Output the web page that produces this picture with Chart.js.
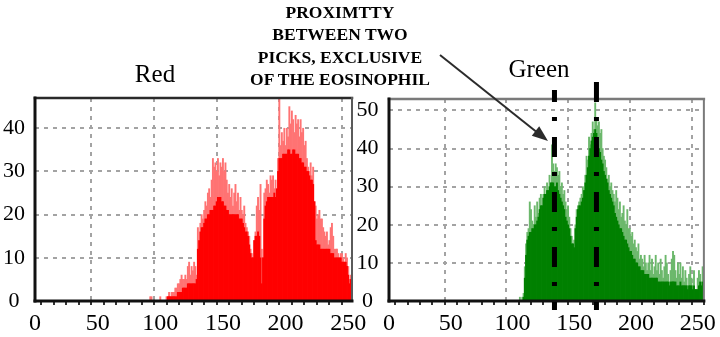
<!DOCTYPE html>
<html><head><meta charset="utf-8">
<script src="https://cdn.jsdelivr.net/npm/chart.js@4.4.0/dist/chart.umd.min.js"></script>
<style>
html,body{margin:0;padding:0;background:#fff;width:720px;height:337px;overflow:hidden;}
#wrap{position:relative;width:720px;height:337px;}
.cv{position:absolute;top:0;}
.t{position:absolute;font-family:"Liberation Serif","Times New Roman",serif;color:#000;text-align:center;white-space:nowrap;}
svg{position:absolute;left:0;top:0;}
</style></head><body>
<div id="wrap">
  <div class="cv" style="left:0;width:372px;height:337px"><canvas id="red" width="372" height="337"></canvas></div>
  <div class="cv" style="left:350px;width:370px;height:337px"><canvas id="green" width="370" height="337"></canvas></div>
  <div class="t" id="titleRed" style="left:95px;top:61px;width:120px;font-size:25px;line-height:25px"></div>
  <div class="t" id="titleGreen" style="left:479px;top:56px;width:120px;font-size:25px;line-height:25px"></div>
  <div class="t" id="note" style="left:240px;top:1px;width:200px;font-size:17.5px;line-height:22.3px;font-weight:bold"></div>
  <svg width="720" height="337"><line x1="440" y1="55" x2="536" y2="131.5" stroke="#2b2b2b" stroke-width="2"/><polygon points="548,141 531.8,135.7 539.2,126.3" fill="#2b2b2b"/></svg>
</div>
<script>
// ---------- DATA ----------
const panelTitles = ["Red", "Green"];
const noteLines = ["PROXIMTTY", "BETWEEN TWO", "PICKS, EXCLUSIVE", "OF THE EOSINOPHIL"];
const xTickLabels = [0, 50, 100, 150, 200, 250];
const yTickStep = 10;

// Red histogram: intensity bins starting at redStartBin (lower bins are empty)
const redStartBin = 90;
const redPeak = [
  0,0,1,1,0,0,0,0,0,0,
  1,0,0,0,0,1,1,2,1,2,
  2,2,3,3,4,4,5,6,5,5,
  6,5,8,9,6,8,7,9,8,6,
  17,12,18,20,19,21,23,22,25,26,
  24,28,33,31,32,30,33,29,32,31,
  33,30,32,28,25,27,24,26,22,25,
  27,23,25,21,24,21,20,22,18,17,
  16,15,12,11,10,14,16,22,24,21,
  27,12,10,25,26,28,27,25,29,28,
  29,26,28,24,33,47,36,39,37,40,
  36,40,38,45,41,44,42,39,43,41,
  42,38,42,39,40,36,37,33,31,30,
  32,29,31,23,22,19,20,21,19,19,
  17,16,15,16,13,14,17,18,15,12,
  12,12,11,10,11,11,10,9,11,10,
  8,5,6,12
];
const redBase = [
  0,0,0,0,0,0,0,0,0,0,
  0,0,0,0,0,0,1,1,1,1,
  1,1,1,1,2,2,2,2,3,3,
  3,3,4,4,4,4,4,4,4,5,
  12,14,16,17,17,18,19,19,20,20,
  21,21,21,22,22,23,24,24,24,23,
  23,22,22,21,21,20,20,20,20,20,
  20,20,20,19,19,19,18,17,16,16,
  15,13,11,10,10,14,15,15,16,15,
  10,4,10,19,22,23,24,24,24,24,
  24,25,24,26,30,33,33,33,34,34,
  34,34,35,35,34,34,35,35,34,34,
  34,33,33,32,32,31,31,30,30,29,
  28,28,27,23,14,13,13,13,12,12,
  12,12,12,12,12,12,11,11,11,10,
  10,10,10,10,10,9,9,9,9,8,
  6,4,5,10
];

// Green histogram
const greenStartBin = 105;
const greenPeak = [
  0,1,0,1,2, 9,15,18,19,26, 24,21,20,25,22, 26,23,27,28,25,
  28,30,27,31,29, 33,31,41,36,34, 36,35,33,34,30, 31,28,29,26,24,
  25,22,19,17,15, 16,20,24,25,26, 27,28,30,29,33, 38,37,43,41,44,
  47,45,52,48,46, 47,44,45,40,38, 37,35,32,33,30, 31,29,28,26,29,
  27,24,26,22,23, 25,21,20,24,19, 19,17,18,15,16, 14,13,15,11,12,
  11,9,12,10,8, 10,12,8,11,7, 9,12,8,10,7, 11,8,6,9,12,
  10,7,5,8,11, 13,12,8,6,10, 7,10,6,9,5, 8,6,4,7,9,
  6,4,8,3,3, 6,8,7,5,9
];
const greenBase = [
  0,0,0,0,1, 6,12,16,17,18, 18,19,19,20,20, 21,22,24,25,25,
  27,28,28,29,29, 30,31,31,31,30, 30,31,29,28,27, 26,25,24,22,21,
  20,19,17,15,15, 14,19,22,24,25, 25,26,27,29,31, 33,35,38,40,42,
  43,44,45,44,41, 40,39,37,36,34, 33,32,31,29,28, 27,26,25,23,22,
  21,20,19,19,18, 17,16,16,15,14, 13,13,12,11,11, 10,10,9,9,8,
  8,8,7,7,7, 7,6,6,6,6, 6,6,6,5,5, 5,5,5,5,5,
  5,5,4,5,5, 5,5,5,4,4, 4,5,4,4,4, 4,4,3,4,4,
  4,3,4,3,3, 3,4,5,4,5
];
// Dash-dot marker positions on the green histogram (intensity values)
const greenMarkers = [134, 168];

// ---------- TEXT ----------
document.getElementById('titleRed').textContent = panelTitles[0];
document.getElementById('titleGreen').textContent = panelTitles[1];
document.getElementById('note').innerHTML = noteLines.join('<br>');

// ---------- CHARTS ----------
const FONT = '"Liberation Serif", "Times New Roman", serif';

const framePlugin = {
  id: 'frame',
  afterDatasetsDraw(chart, args, o) {
    const {left, right, top, bottom} = chart.chartArea;
    const ctx = chart.ctx;
    ctx.save();
    ctx.setLineDash([]);
    ctx.lineCap = 'square';
    ctx.strokeStyle = o.topColor; ctx.lineWidth = 2.5;
    ctx.beginPath(); ctx.moveTo(left, top); ctx.lineTo(right, top); ctx.stroke();
    ctx.strokeStyle = o.rightColor; ctx.lineWidth = 2;
    ctx.beginPath(); ctx.moveTo(right, top); ctx.lineTo(right, bottom); ctx.stroke();
    ctx.strokeStyle = '#111'; ctx.lineWidth = 3;
    ctx.beginPath(); ctx.moveTo(left, top); ctx.lineTo(left, bottom); ctx.stroke();
    ctx.beginPath(); ctx.moveTo(left, bottom); ctx.lineTo(right, bottom); ctx.stroke();
    if (o.markers) {
      ctx.strokeStyle = '#000'; ctx.lineWidth = 5; ctx.lineCap = 'butt';
      ctx.setLineDash([20, 15, 4, 16]);
      o.markers.forEach((v, i) => {
        const x = chart.scales.x.getPixelForValue(v);
        const y0 = o.markerTops[i];
        ctx.lineDashOffset = ((y0 - 82) % 55 + 55) % 55;
        ctx.beginPath(); ctx.moveTo(x, y0); ctx.lineTo(x, bottom + 9); ctx.stroke();
      });
    }
    ctx.restore();
  }
};

function makeChart(id, cfg) {
  const toPts = (arr) => arr.map((y, i) => ({x: cfg.start + i, y}));
  return new Chart(document.getElementById(id), {
    type: 'bar',
    data: {
      datasets: [
        {data: toPts(cfg.peak), backgroundColor: cfg.peakColor, grouped: false, order: 2,
         barPercentage: 1, categoryPercentage: 1, borderWidth: 0},
        {data: toPts(cfg.base), backgroundColor: cfg.baseColor, grouped: false, order: 1,
         barPercentage: 1, categoryPercentage: 1, borderWidth: 0}
      ]
    },
    options: {
      responsive: false, animation: false,
      layout: {padding: {top: cfg.padTop, right: cfg.padRight, left: 0, bottom: 0}},
      plugins: {legend: {display: false}, tooltip: {enabled: false}, title: {display: false},
        frame: {topColor: cfg.topColor, rightColor: cfg.rightColor, markers: cfg.markers, markerTops: cfg.markerTops}},
      scales: {
        x: {
          type: 'linear', min: 0, max: cfg.xMax, offset: false,
          afterFit: s => { s.height = 36; },
          border: {display: false, dash: [4, 5]},
          grid: {
            color: c => (c.tick && c.tick.value > 0 && c.tick.value % 50 === 0) ? '#a3a3a3' : 'rgba(0,0,0,0)',
            tickColor: '#333', tickLength: 4, lineWidth: 2, drawTicks: true
          },
          ticks: {
            stepSize: 10, autoSkip: false, maxRotation: 0, minRotation: 0, includeBounds: false,
            padding: 4, color: '#000', font: {family: FONT, size: 24},
            callback: v => xTickLabels.includes(v) ? String(v) : ''
          }
        },
        y: {
          min: 0, max: cfg.yMax,
          afterFit: s => { s.width = cfg.yWidth; },
          border: {display: false, dash: [4, 5]},
          grid: {color: c => (c.tick && c.tick.value > 0) ? '#a3a3a3' : 'rgba(0,0,0,0)', lineWidth: 2, drawTicks: false},
          ticks: {stepSize: yTickStep, includeBounds: false, padding: cfg.yPad, crossAlign: 'center',
            color: '#000', font: {family: FONT, size: 22}}
        }
      }
    },
    plugins: [framePlugin]
  });
}

makeChart('red', {
  start: redStartBin, peak: redPeak, base: redBase,
  peakColor: '#ff7373', baseColor: '#ff0000',
  xMax: 253, yMax: 47, padTop: 98, padRight: 20, yWidth: 35, yPad: 10,
  topColor: '#2a2a2a', rightColor: '#5a5a5a'
});
makeChart('green', {
  start: greenStartBin, peak: greenPeak, base: greenBase,
  peakColor: '#6cb86c', baseColor: '#008000',
  xMax: 255, yMax: 53, padTop: 99, padRight: 15, yWidth: 39, yPad: 10.5,
  topColor: '#7a7a7a', rightColor: '#7a7a7a',
  markers: greenMarkers, markerTops: [90, 80]
});
</script>
</body></html>
